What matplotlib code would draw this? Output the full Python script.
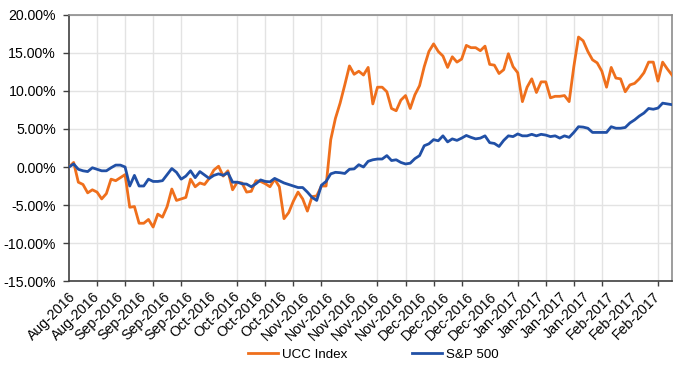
import matplotlib
matplotlib.use("Agg")
import matplotlib.pyplot as plt
from matplotlib.ticker import FuncFormatter, MultipleLocator

plt.rcParams['font.family'] = ['Liberation Sans', 'DejaVu Sans']

# daily cumulative returns, in percent
ucc_index = [
    0.0, 0.6, -2.0, -2.3, -3.4, -3.0, -3.3, -4.2, -3.5, -1.6,
    -1.8, -1.4, -1.0, -5.3, -5.2, -7.4, -7.4, -6.9, -7.9, -6.2,
    -6.6, -5.2, -2.9, -4.4, -4.2, -4.0, -1.6, -2.6, -2.1, -2.3,
    -1.5, -0.4, 0.1, -1.2, -0.5, -3.0, -2.0, -2.1, -3.3, -3.2,
    -1.8, -1.9, -2.2, -2.6, -1.6, -2.6, -6.8, -6.0, -4.5, -3.3,
    -4.2, -5.8, -3.9, -3.8, -2.5, -2.5, 3.6, 6.4, 8.4, 10.8,
    13.3, 12.2, 12.6, 12.1, 13.1, 8.3, 10.5, 10.5, 9.9, 7.7,
    7.4, 8.8, 9.4, 7.7, 9.5, 10.7, 13.2, 15.2, 16.2, 15.2,
    14.6, 13.1, 14.5, 13.8, 14.2, 16.0, 15.7, 15.7, 15.3, 15.9,
    13.5, 13.4, 12.3, 12.8, 14.9, 13.2, 12.4, 8.6, 10.5, 11.6,
    9.8, 11.2, 11.2, 9.1, 9.3, 9.3, 9.4, 8.6, 13.2, 17.1,
    16.6, 15.2, 14.1, 13.7, 12.6, 10.5, 13.1, 11.7, 11.6, 9.9,
    10.8, 11.0, 11.6, 12.4, 13.8, 13.8, 11.3, 13.8, 12.9, 12.1,
]
sp500 = [
    0.0, 0.4, -0.3, -0.5, -0.6, -0.1, -0.3, -0.5, -0.5, -0.1,
    0.25, 0.25, 0.0, -2.5, -1.1, -2.5, -2.5, -1.6, -1.9, -1.9,
    -1.8, -1.0, -0.2, -0.7, -1.6, -1.2, -0.5, -1.4, -0.6, -1.05,
    -1.5, -1.1, -0.9, -1.1, -0.75, -2.0, -2.0, -2.2, -2.25, -2.6,
    -2.2, -1.7, -1.9, -1.95, -1.5, -1.8, -2.1, -2.3, -2.5, -2.7,
    -2.7, -3.3, -4.0, -4.4, -2.4, -1.9, -0.9, -0.7, -0.75, -0.85,
    -0.3, -0.25, 0.3, 0.0, 0.75, 0.95, 1.05, 1.05, 1.5, 0.85,
    0.95, 0.6, 0.4, 0.5, 1.1, 1.5, 2.8, 3.05, 3.6, 3.45,
    4.1, 3.3, 3.7, 3.5, 3.8, 4.15, 3.9, 3.7, 3.8, 4.1,
    3.2, 3.1, 2.7, 3.5, 4.1, 4.0, 4.35, 4.1, 4.1, 4.3,
    4.1, 4.3, 4.2, 4.0, 4.1, 3.8, 4.1, 3.9, 4.55, 5.3,
    5.25, 5.1, 4.55, 4.55, 4.55, 4.55, 5.3, 5.1, 5.1, 5.2,
    5.8, 6.2, 6.7, 7.1, 7.7, 7.6, 7.75, 8.4, 8.3, 8.2,
]

# one label every 5 days
date_labels = [
    "Aug-2016", "Aug-2016",
    "Sep-2016", "Sep-2016", "Sep-2016", "Sep-2016",
    "Oct-2016", "Oct-2016", "Oct-2016", "Oct-2016",
    "Nov-2016", "Nov-2016", "Nov-2016", "Nov-2016", "Nov-2016",
    "Dec-2016", "Dec-2016", "Dec-2016", "Dec-2016",
    "Jan-2017", "Jan-2017", "Jan-2017", "Jan-2017",
    "Feb-2017", "Feb-2017", "Feb-2017",
]
LABEL_STEP = 5
TICK_STEP = 6

x = list(range(len(ucc_index)))

fig = plt.figure(figsize=(6.85, 3.70), dpi=100)
ax = fig.add_axes([0.1007, 0.2405, 0.8803, 0.719])

ax.plot(x, ucc_index, color="#EF6F1C", lw=2.0, label="UCC Index", zorder=3)
ax.plot(x, sp500, color="#2150A6", lw=2.0, label="S&P 500", zorder=3)

ax.set_xlim(0, len(x) - 1)
ax.set_ylim(-15, 20)
ax.yaxis.set_major_locator(MultipleLocator(5))
ax.yaxis.set_major_formatter(FuncFormatter(lambda v, p: f"{v:.2f}%"))

# labels every 5 days (no marks), tick marks + grid every 6 days
ax.set_xticks(range(0, len(x), LABEL_STEP))
ax.set_xticklabels(date_labels, rotation=45, ha="right", rotation_mode="anchor")
ax.set_xticks(range(0, len(x), TICK_STEP), minor=True)
ax.tick_params(axis="x", which="major", length=0, pad=6, labelsize=10.2, colors="black")
ax.tick_params(axis="x", which="minor", length=3.5, width=1, color="#404040", direction="out")
ax.tick_params(axis="y", length=4.3, width=1, color="#404040", labelsize=10.2, pad=5)

ax.grid(True, axis="y", which="major", color="#E3E3E3", lw=1)
ax.grid(True, axis="x", which="minor", color="#E3E3E3", lw=1)
ax.set_axisbelow(True)

for side in ["left", "bottom"]:
    ax.spines[side].set_color("#404040")
    ax.spines[side].set_linewidth(1.2)
for side in ["top", "right"]:
    ax.spines[side].set_color("#8C8C8C")
    ax.spines[side].set_linewidth(1.2)

fig.legend(loc="center", bbox_to_anchor=(0.545, 0.041), ncol=2, frameon=False,
           fontsize=9.6, handlelength=2.2, columnspacing=4.9, handletextpad=0.3)

fig.savefig("out.png", dpi=100)
